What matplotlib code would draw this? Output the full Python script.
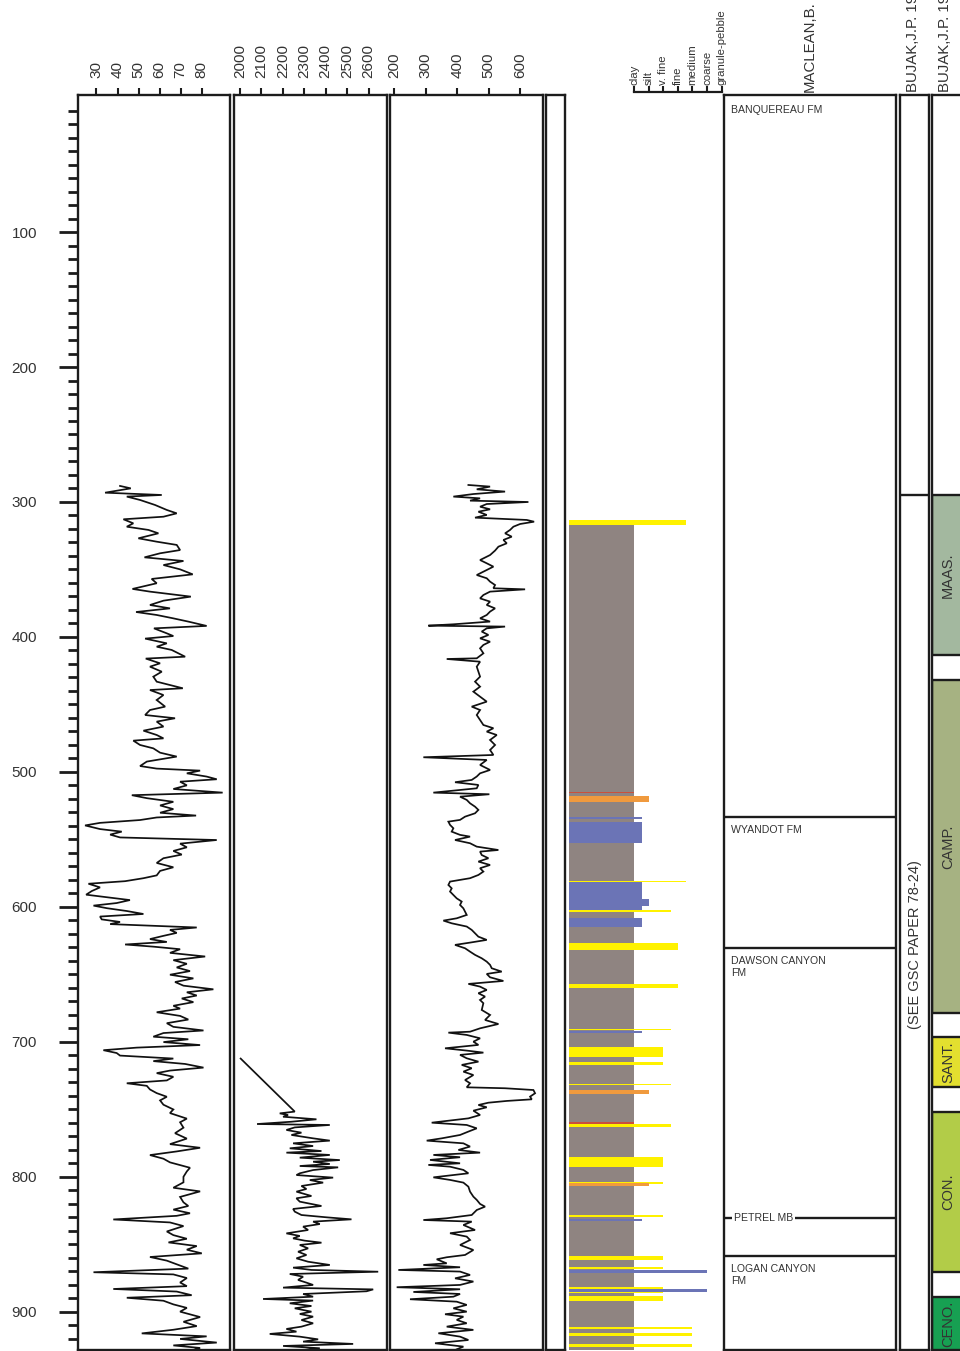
import matplotlib
matplotlib.use("Agg")
import matplotlib.pyplot as plt
from matplotlib.patches import Rectangle

plt.rcParams['font.family'] = ['Liberation Sans', 'DejaVu Sans']

# ---------------------------------------------------------------- data
# gamma ray (API) against depth (m)
gr_log = [
    (288.1, 41.2), (289.9, 46.3), (293.1, 34.1), (294.8, 61.0), (296.0, 44.4), (298.5, 50.7),
    (302.2, 57.8), (305.9, 63.4), (308.4, 68.1), (310.9, 61.8), (312.8, 42.8), (315.8, 47.5),
    (318.3, 44.4), (320.7, 54.7), (323.2, 59.4), (326.9, 49.9), (329.4, 58.6), (331.8, 68.1),
    (335.6, 69.7), (338.0, 60.2), (341.0, 52.8), (343.7, 71.3), (346.7, 61.8), (349.9, 69.7),
    (353.6, 75.7), (357.0, 56.2), (360.2, 58.6), (364.4, 47.1), (366.4, 55.4), (370.1, 74.8),
    (373.1, 61.8), (376.3, 55.4), (378.8, 64.9), (381.5, 48.8), (383.7, 58.6), (386.2, 66.5),
    (388.6, 73.6), (391.8, 82.3), (393.6, 57.3), (397.3, 63.4), (399.3, 66.5), (401.2, 53.1),
    (404.7, 63.4), (407.2, 58.6), (409.6, 65.7), (414.6, 72.1), (416.0, 53.4), (419.5, 60.2),
    (422.0, 55.4), (425.7, 61.0), (429.4, 57.0), (433.1, 58.6), (438.0, 71.0), (439.3, 55.4),
    (443.0, 61.8), (446.7, 58.6), (451.6, 62.6), (454.1, 55.4), (457.8, 53.1), (460.2, 67.3),
    (462.7, 58.6), (466.4, 61.8), (469.4, 52.3), (472.6, 58.6), (475.1, 61.8), (476.8, 47.5),
    (480.0, 50.7), (482.5, 57.0), (485.7, 60.2), (488.6, 68.1), (492.3, 53.9), (495.6, 50.7),
    (497.5, 58.6), (499.0, 79.2), (501.0, 72.9), (503.4, 82.3), (505.4, 87.1),
    (507.2, 69.7), (509.9, 72.9), (512.6, 66.5), (515.3, 89.9), (517.2, 46.8), (519.4, 53.9),
    (522.1, 66.5), (524.8, 60.2), (527.5, 66.5), (530.2, 60.2), (532.3, 77.3), (533.7, 58.6),
    (535.6, 50.7), (537.7, 31.7), (539.6, 24.6), (542.3, 31.7), (544.2, 42.0), (546.4, 36.5),
    (548.5, 41.2), (550.4, 87.1), (553.1, 69.7), (555.8, 72.9), (558.5, 66.5), (561.2, 70.5),
    (563.9, 61.8), (567.4, 58.6), (570.6, 66.5), (573.3, 60.2), (576.6, 58.6), (578.7, 52.3),
    (580.9, 43.6), (582.8, 26.2), (585.5, 31.7), (588.2, 27.8), (590.9, 25.1), (592.8, 34.9),
    (594.9, 45.9), (597.1, 39.6), (599.0, 28.6), (600.9, 34.9), (603.0, 44.4), (605.2, 52.3),
    (607.1, 31.7), (609.2, 32.5), (611.1, 41.2), (612.7, 36.5), (615.2, 77.6), (617.0, 64.9),
    (619.2, 68.1), (621.4, 61.8), (623.8, 55.4), (625.9, 63.4), (627.8, 43.6), (629.4, 57.0),
    (631.3, 69.7), (634.0, 64.9), (636.7, 81.6), (639.4, 66.5), (642.1, 72.9), (644.8, 68.1),
    (647.5, 74.4), (650.2, 64.9), (652.9, 76.0), (655.6, 67.3), (658.3, 71.3), (661.0, 85.5),
    (663.2, 72.9), (665.6, 77.6), (667.8, 70.5), (670.5, 76.0), (673.2, 66.5), (675.3, 69.7),
    (678.0, 58.6), (680.7, 69.7), (683.4, 73.6), (686.1, 63.4), (688.8, 66.5), (691.5, 80.8),
    (693.4, 61.8), (696.1, 57.0), (698.0, 73.6), (700.1, 61.8), (702.3, 79.2), (704.2, 49.1),
    (706.1, 33.3), (708.2, 39.6), (710.1, 41.2), (712.3, 66.5), (714.2, 57.0), (716.3, 72.1),
    (719.0, 80.8), (721.2, 64.9), (723.1, 58.6), (725.8, 66.5), (728.5, 63.4), (730.6, 44.4),
    (732.5, 53.9), (735.2, 55.4), (737.9, 58.6), (740.6, 63.4), (743.3, 60.2), (746.5, 61.8),
    (750.0, 66.5), (752.7, 64.9), (756.8, 72.9), (759.5, 69.7), (763.5, 71.3), (767.6, 67.3),
    (771.6, 72.9), (775.7, 64.9), (778.4, 79.2), (781.1, 68.1), (783.8, 55.4), (786.5, 61.8),
    (789.2, 64.9), (793.2, 74.4), (795.9, 72.9), (799.9, 71.3), (804.0, 71.3), (808.0, 66.5),
    (810.7, 79.2), (814.8, 69.7), (818.8, 71.3), (821.5, 73.6), (824.2, 66.5), (826.9, 74.4),
    (828.8, 68.1), (831.5, 38.0), (833.7, 64.9), (836.4, 71.3), (840.4, 63.4), (843.1, 66.5),
    (845.8, 72.9), (848.5, 64.2), (851.2, 77.6), (853.9, 72.9), (856.6, 80.0), (859.3, 55.4),
    (862.0, 63.4), (864.7, 68.1), (867.9, 73.6), (870.6, 28.6), (872.2, 66.5), (874.9, 72.9),
    (878.2, 69.7), (880.9, 72.9), (883.0, 38.0), (884.9, 68.1), (887.6, 75.2), (889.5, 44.4),
    (891.7, 61.8), (894.4, 66.5), (897.0, 72.9), (899.8, 69.7), (903.8, 79.2), (907.3, 71.3),
    (910.5, 77.6), (913.2, 66.5), (915.9, 51.5), (918.1, 82.3), (920.0, 69.7), (922.7, 87.1),
    (924.8, 66.5), (926.7, 79.2), (928.9, 74.4),
]

# bulk density (kg/m3) against depth (m)
density_log = [
    (712.3, 2003.0), (751.6, 2255.5), (752.9, 2185.4), (754.1, 2224.3), (755.4, 2201.0),
    (757.3, 2356.7), (759.1, 2239.9), (760.8, 2079.5), (761.5, 2419.0), (763.3, 2255.5),
    (765.2, 2216.5), (767.2, 2286.6), (768.9, 2239.9), (771.4, 2341.1), (773.1, 2419.0),
    (775.1, 2247.7), (777.1, 2341.1), (778.8, 2232.1), (780.8, 2380.1), (782.0, 2216.5),
    (783.7, 2419.0), (785.7, 2278.8), (787.5, 2465.7), (788.7, 2341.1), (790.4, 2419.0),
    (791.9, 2278.8), (792.9, 2457.9), (794.9, 2341.1), (797.3, 2278.8), (798.6, 2263.3),
    (800.5, 2434.6), (802.3, 2325.6), (804.2, 2387.9), (806.7, 2286.6), (808.9, 2310.0),
    (810.9, 2263.3), (814.1, 2333.3), (815.8, 2263.3), (818.3, 2278.8), (821.5, 2380.1),
    (823.7, 2247.7), (825.7, 2255.5), (828.2, 2286.6), (829.9, 2403.4), (831.4, 2520.2),
    (833.1, 2341.1), (834.9, 2372.3), (836.8, 2294.4), (839.3, 2317.8), (841.8, 2216.5),
    (843.7, 2278.8), (845.5, 2247.7), (847.2, 2302.2), (848.7, 2380.1), (850.4, 2278.8),
    (852.9, 2317.8), (855.4, 2271.0), (857.8, 2310.0), (860.3, 2263.3), (862.8, 2317.8),
    (865.2, 2419.0), (867.2, 2247.7), (868.9, 2333.3), (870.2, 2644.9), (871.9, 2232.1),
    (873.9, 2294.4), (876.3, 2271.0), (878.3, 2310.0), (880.0, 2341.1), (882.0, 2201.0),
    (883.3, 2621.5), (884.7, 2590.4), (886.7, 2294.4), (888.7, 2341.1), (890.4, 2107.5),
    (891.6, 2341.1), (893.6, 2232.1), (895.6, 2333.3), (897.3, 2255.5), (899.8, 2333.3),
    (901.5, 2278.8), (903.5, 2341.1), (906.0, 2286.6), (908.4, 2341.1), (910.9, 2286.6),
    (912.6, 2216.5), (914.6, 2263.3), (916.3, 2138.6), (918.3, 2278.8), (920.3, 2364.5),
    (922.0, 2294.4), (923.7, 2528.0), (925.2, 2201.0), (926.9, 2372.3), (928.4, 2286.6),
]

# sonic transit time (us/m) against depth (m)
sonic_log = [
    (287.4, 435.8), (288.6, 504.8), (290.6, 462.4), (292.3, 552.6), (294.1, 451.7), (296.0, 388.0),
    (297.3, 473.0), (299.0, 441.1), (300.0, 626.9), (301.5, 494.2), (303.5, 473.0), (305.4, 504.8),
    (307.2, 467.7), (309.6, 494.2), (311.6, 457.0), (313.3, 621.6), (314.6, 645.0), (316.3, 600.4),
    (318.3, 579.1), (320.7, 568.5), (323.2, 552.6), (325.7, 573.8), (328.1, 547.3), (330.6, 557.9),
    (333.1, 531.4), (336.0, 520.7), (339.3, 504.8), (343.0, 473.0), (345.4, 494.2), (347.9, 515.4),
    (350.4, 494.2), (354.1, 462.4), (356.5, 494.2), (359.0, 504.8), (361.5, 520.7), (363.9, 515.4),
    (364.7, 616.3), (366.4, 504.8), (368.9, 483.6), (371.4, 473.0), (373.8, 504.8), (376.3, 494.2),
    (378.8, 520.7), (381.2, 504.8), (383.7, 494.2), (386.2, 473.0), (388.6, 504.8), (390.6, 388.0),
    (391.6, 308.4), (392.3, 552.6), (393.6, 494.2), (396.0, 478.3), (398.5, 499.5), (401.0, 473.0),
    (403.5, 504.8), (405.9, 483.6), (408.4, 473.0), (412.1, 483.6), (415.8, 462.4), (416.3, 366.8),
    (418.3, 473.0), (422.0, 462.4), (425.7, 467.7), (429.4, 473.0), (433.1, 457.0), (436.8, 473.0),
    (440.5, 451.7), (444.2, 473.0), (447.9, 494.2), (451.6, 446.4), (454.1, 473.0), (457.8, 462.4),
    (461.5, 473.0), (465.2, 483.6), (467.6, 515.4), (470.1, 494.2), (472.6, 526.1), (476.3, 504.8),
    (480.0, 520.7), (483.7, 504.8), (487.4, 515.4), (489.1, 292.5), (491.1, 494.2), (494.8, 473.0),
    (498.5, 504.8), (501.0, 472.9), (503.4, 462.3), (505.9, 446.4), (507.6, 393.3), (509.6, 467.6),
    (512.1, 462.3), (515.3, 324.3), (516.5, 502.6), (518.3, 409.2), (520.7, 430.5), (523.2, 441.1),
    (525.7, 457.0), (528.1, 467.6), (530.6, 457.0), (533.1, 425.2), (535.5, 409.2), (536.8, 372.1),
    (539.2, 377.4), (541.7, 388.0), (544.2, 382.7), (546.6, 409.2), (547.9, 441.1), (550.4, 393.3),
    (552.8, 441.1), (555.3, 462.3), (557.8, 531.3), (559.0, 472.9), (561.5, 478.2), (563.9, 499.5),
    (566.4, 467.6), (568.9, 504.8), (571.3, 472.9), (573.8, 483.5), (576.3, 467.6), (578.7, 441.1),
    (581.2, 377.4), (583.7, 372.1), (586.2, 382.7), (588.6, 377.4), (591.1, 388.0), (593.6, 398.6),
    (596.0, 414.5), (598.5, 409.2), (601.0, 419.8), (603.4, 425.2), (605.9, 430.5), (608.4, 398.6),
    (610.1, 356.2), (612.1, 382.7), (614.5, 430.5), (617.0, 446.4), (619.5, 457.0), (622.0, 467.6),
    (624.4, 494.2), (626.4, 441.1), (628.1, 393.3), (630.6, 425.2), (633.1, 441.1), (635.5, 457.0),
    (638.0, 478.2), (640.5, 494.2), (642.9, 504.8), (645.4, 510.1), (647.9, 541.9), (649.6, 494.2),
    (652.1, 504.8), (654.8, 547.2), (657.0, 435.8), (659.0, 472.9), (661.5, 494.2), (663.9, 467.6),
    (666.4, 488.8), (668.9, 472.9), (671.3, 483.5), (676.3, 478.3), (680.0, 504.8), (683.7, 488.9),
    (686.7, 531.4), (689.9, 473.0), (692.4, 441.1), (693.1, 372.1), (694.8, 430.5), (697.3, 473.0),
    (699.8, 451.7), (702.2, 467.7), (704.7, 361.5), (706.4, 430.5), (707.9, 483.6), (709.6, 409.3),
    (712.1, 430.5), (714.6, 467.7), (717.0, 414.6), (719.5, 446.4), (722.0, 419.9), (724.5, 451.7),
    (728.2, 425.2), (730.6, 441.1), (733.6, 430.5), (734.3, 552.6), (735.6, 642.8), (738.0, 648.1),
    (740.5, 632.2), (742.5, 637.5), (743.7, 557.9), (745.0, 499.5), (746.7, 467.7), (748.4, 494.2),
    (750.9, 451.7), (754.1, 473.0), (756.6, 435.8), (759.8, 319.0), (761.5, 430.5), (764.0, 462.4),
    (766.4, 435.8), (768.9, 409.3), (771.4, 350.9), (773.1, 303.1), (775.1, 419.9), (777.5, 441.1),
    (780.0, 404.0), (782.0, 473.0), (783.7, 324.4), (785.4, 409.3), (787.4, 313.7), (789.9, 409.3),
    (791.1, 308.4), (792.4, 377.4), (794.8, 419.9), (797.3, 435.8), (800.3, 324.4), (802.2, 377.4),
    (804.2, 419.9), (807.2, 435.8), (810.9, 441.1), (814.6, 451.7), (817.0, 462.4), (820.0, 473.0),
    (822.0, 488.9), (824.5, 462.4), (828.2, 446.4), (830.6, 366.8), (831.9, 292.5), (833.1, 446.4),
    (835.6, 419.9), (839.3, 457.0), (841.7, 377.4), (844.2, 430.5), (846.7, 441.1), (850.4, 409.3),
    (854.1, 451.7), (857.8, 425.2), (859.5, 366.8), (861.0, 335.0), (864.0, 366.8), (865.2, 292.5),
    (866.9, 409.3), (868.9, 212.9), (870.1, 409.3), (872.6, 441.1), (875.1, 393.4), (877.5, 451.7),
    (880.0, 409.3), (881.7, 207.6), (883.2, 409.3), (885.2, 260.7), (886.7, 409.3), (888.7, 388.0),
    (890.6, 250.0), (892.4, 398.7), (894.8, 430.5), (897.3, 388.0), (899.8, 430.5), (901.7, 361.5),
    (903.5, 419.9), (905.9, 398.7), (908.4, 430.5), (910.9, 366.8), (913.3, 451.7), (915.8, 340.3),
    (918.3, 409.3), (920.8, 435.8), (923.2, 329.7), (925.7, 419.9), (927.7, 398.7),
]

gr_ticks = [30, 40, 50, 60, 70, 80]
density_ticks = [2000, 2100, 2200, 2300, 2400, 2500, 2600]
sonic_ticks = [200, 300, 400, 500, 600]
depth_labels = [100, 200, 300, 400, 500, 600, 700, 800, 900]

# grain-size classes (1 = clay ... 7 = granule-pebble)
grain_classes = ['clay', 'silt', 'v. fine', 'fine', 'medium', 'coarse', 'granule-pebble']

# lithology beds: top (m), base (m), grain size, rock type
shale_interval = (316.8, 928.2)
beds = [
    (313.3, 316.8, 4.56, 'sandstone'),
    (514.8, 515.9, 1.0, 'ironstone'),
    (517.8, 522.1, 2.0, 'siltstone'),
    (533.1, 534.5, 1.55, 'limestone'),
    (536.9, 552.3, 1.55, 'limestone'),
    (580.4, 581.7, 4.56, 'sandstone'),
    (581.7, 602.2, 1.55, 'limestone'),
    (594.1, 599.0, 2.0, 'limestone'),
    (602.2, 604.1, 3.5, 'sandstone'),
    (608.1, 614.6, 1.55, 'limestone'),
    (626.8, 632.1, 4.0, 'sandstone'),
    (657.0, 660.2, 4.0, 'sandstone'),
    (690.1, 691.5, 3.5, 'sandstone'),
    (692.0, 693.7, 1.55, 'limestone'),
    (703.6, 710.9, 3.0, 'sandstone'),
    (715.2, 716.9, 3.0, 'sandstone'),
    (730.9, 732.2, 3.5, 'sandstone'),
    (735.5, 738.2, 2.0, 'siltstone'),
    (759.2, 760.6, 1.0, 'ironstone'),
    (760.6, 762.7, 3.5, 'sandstone'),
    (785.1, 792.9, 3.0, 'sandstone'),
    (803.7, 805.3, 3.0, 'sandstone'),
    (804.8, 806.4, 2.0, 'siltstone'),
    (828.3, 829.9, 3.0, 'sandstone'),
    (831.2, 832.8, 1.55, 'limestone'),
    (858.5, 861.7, 3.0, 'sandstone'),
    (866.6, 867.9, 3.0, 'sandstone'),
    (868.7, 870.9, 6.0, 'limestone'),
    (881.4, 883.0, 3.0, 'sandstone'),
    (883.0, 884.9, 6.0, 'limestone'),
    (884.9, 886.3, 3.0, 'sandstone'),
    (888.1, 891.7, 3.0, 'sandstone'),
    (910.8, 913.0, 5.0, 'sandstone'),
    (915.9, 917.8, 5.0, 'sandstone'),
    (923.5, 925.9, 5.0, 'sandstone'),
]
rock_colors = {
    'shale': '#8f8481',
    'sandstone': '#fff200',
    'limestone': '#6b74b6',
    'siltstone': '#f09a3e',
    'ironstone': '#c9503c',
}

# formations (MACLEAN, B.)
formation_names = ['BANQUEREAU FM', 'WYANDOT FM', 'DAWSON CANYON\nFM', 'LOGAN CANYON\nFM']
formation_tops = [0.0, 533.3, 630.5, 858.6]
member_name = 'PETREL MB'
member_top = 830.3

# stages (BUJAK, J.P.)
stage_names = ['MAAS.', 'CAMP.', 'SANT.', 'CON.', 'CENO.']
stage_tops = [294.5, 431.9, 696.3, 751.9, 888.9]
stage_bases = [413.3, 678.5, 733.3, 870.4, 940.0]
stage_colors = ['#a3b89f', '#a6b282', '#e3df2f', '#b2cc48', '#17a052']
palynology_top = 294.5
palynology_note = '(SEE GSC PAPER 78-24)'

# ---------------------------------------------------------------- layout
W, H, DPI = 960, 1351, 100
TOP_Y, BOT_Y = 95, 1350
DEPTH_TOP, DEPTH_BOT = -1.5, 928.2
INK = '#1c1c1c'
TEXT = '#333333'
FRAME_LW = 1.7

fig = plt.figure(figsize=(W / DPI, H / DPI), dpi=DPI)
fig.patch.set_facecolor('white')


def rect(x0, x1, y0=TOP_Y, y1=BOT_Y):
    return [x0 / W, 1 - y1 / H, (x1 - x0) / W, (y1 - y0) / H]


def track(x0, x1, frame=True):
    ax = fig.add_axes(rect(x0, x1))
    ax.set_ylim(DEPTH_BOT, DEPTH_TOP)
    for s in ax.spines.values():
        s.set_linewidth(FRAME_LW)
        s.set_color(INK)
        s.set_visible(frame)
    ax.tick_params(axis='y', which='both', left=False, labelleft=False)
    ax.tick_params(axis='x', which='both', bottom=False, labelbottom=False)
    return ax


def top_scale(ax, ticks):
    ax.xaxis.set_ticks_position('top')
    ax.set_xticks(ticks)
    ax.set_xticklabels([str(t) for t in ticks], rotation=90)
    ax.tick_params(axis='x', top=True, labeltop=True, direction='out', length=5,
                   width=1.5, color=INK, pad=7, labelsize=11, labelcolor=TEXT)


def curve(ax, samples):
    depth = [d for d, _ in samples]
    value = [v for _, v in samples]
    ax.plot(value, depth, color='#111111', lw=1.25, solid_joinstyle='miter')


# gamma ray track carries the depth scale
ax_gr = track(77.9, 229.6)
ax_gr.set_xlim(21.2, 93.2)
curve(ax_gr, gr_log)
top_scale(ax_gr, gr_ticks)
ax_gr.set_yticks(depth_labels)
ax_gr.set_yticklabels([str(d) for d in depth_labels])
ax_gr.set_yticks([d for d in range(0, 930, 10) if d % 100 != 0], minor=True)
ax_gr.tick_params(axis='y', which='major', left=True, labelleft=True, direction='out',
                  length=13.5, width=2.0, color=INK, pad=16, labelsize=11, labelcolor=TEXT)
ax_gr.tick_params(axis='y', which='minor', left=True, direction='out', length=7,
                  width=2.0, color=INK)

# density track
ax_den = track(233.9, 386.8)
ax_den.set_xlim(1971.5, 2685.0)
curve(ax_den, density_log)
top_scale(ax_den, density_ticks)

# sonic track
ax_son = track(390.0, 542.9)
ax_son.set_xlim(186.3, 673.0)
curve(ax_son, sonic_log)
top_scale(ax_son, sonic_ticks)

# narrow blank track
track(546.0, 565.0)

# lithology / grain-size track
LITHO_MIN, LITHO_MAX = -3.45, 7.16
ax_lit = track(569.0, 724.0, frame=False)
ax_lit.set_xlim(LITHO_MIN, LITHO_MAX)
s_top, s_base = shale_interval
ax_lit.barh((s_top + s_base) / 2, 1.0 - LITHO_MIN, height=s_base - s_top, left=LITHO_MIN,
            color=rock_colors['shale'], edgecolor='none')
for top, base, grain, rock in beds:
    ax_lit.barh((top + base) / 2, grain - LITHO_MIN, height=base - top, left=LITHO_MIN,
                color=rock_colors[rock], edgecolor='none')
ax_lit.spines['top'].set_visible(True)
ax_lit.spines['top'].set_bounds(1, 7)
ax_lit.spines['top'].set_position(('outward', 2))
ax_lit.spines['top'].set_linewidth(1.6)
ax_lit.xaxis.set_ticks_position('top')
ax_lit.set_xticks(range(1, 8))
ax_lit.set_xticklabels(grain_classes, rotation=90)
ax_lit.tick_params(axis='x', top=True, labeltop=True, direction='out', length=4,
                   width=1.5, color=INK, pad=1, labelsize=8.2, labelcolor=TEXT)

# formation track
ax_fm = track(724.0, 896.0)
ax_fm.set_xlim(0, 1)
for name, top in zip(formation_names, formation_tops):
    if top > 0:
        ax_fm.axhline(top, color=INK, lw=FRAME_LW)
    ax_fm.annotate(name, xy=(0, top), xytext=(5, -6), textcoords='offset points',
                   ha='left', va='top', fontsize=7.6, color=TEXT, linespacing=1.25)
ax_fm.axhline(member_top, color=INK, lw=FRAME_LW)
ax_fm.annotate(member_name, xy=(0, member_top), xytext=(7, 0), textcoords='offset points',
               ha='left', va='center', fontsize=7.6, color=TEXT,
               bbox=dict(boxstyle='square,pad=0.15', fc='white', ec='none'))

# reference track
ax_ref = track(900.0, 929.0)
ax_ref.set_xlim(0, 1)
ax_ref.axhline(palynology_top, color=INK, lw=FRAME_LW)
ax_ref.text(0.5, 628.0, palynology_note, rotation=90, ha='center', va='center',
            fontsize=10.5, color=TEXT)

# stage track
ax_st = track(932.0, 964.0)
ax_st.set_xlim(0, 1)
for name, top, base, col in zip(stage_names, stage_tops, stage_bases, stage_colors):
    ax_st.add_patch(Rectangle((0, top), 1, base - top, facecolor=col, edgecolor=INK,
                              lw=FRAME_LW, clip_on=True))
    mid = (top + min(base, DEPTH_BOT)) / 2
    ax_st.text(0.5, mid, name, rotation=90, ha='center', va='center', fontsize=10.5,
               color=TEXT, clip_on=True)

# column headings
for x, label in [(810, 'MACLEAN,B.'), (913, 'BUJAK,J.P. 1978'), (945, 'BUJAK,J.P. 1978')]:
    fig.text(x / W, 1 - 92 / H, label, rotation=90, ha='center', va='bottom',
             fontsize=10.8, color=TEXT)

fig.savefig('out.png', dpi=DPI)
